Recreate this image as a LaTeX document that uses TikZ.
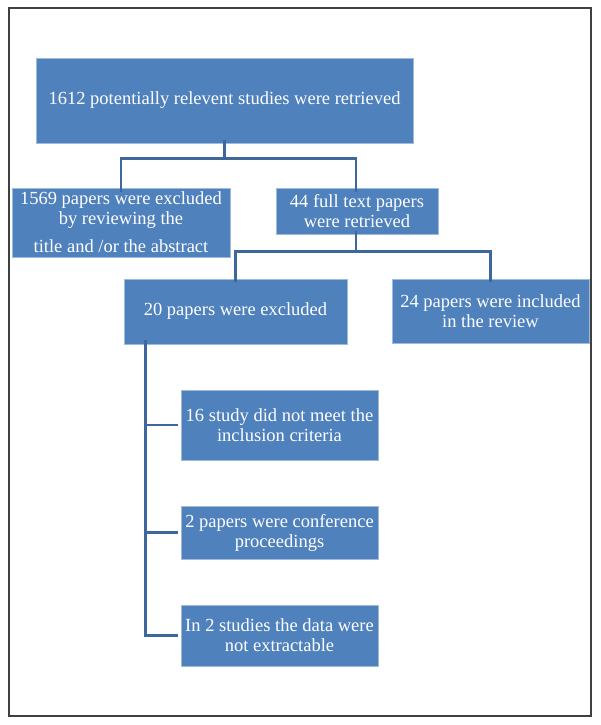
\documentclass[tikz,border=0pt]{standalone}
\usepackage{fontspec}
\setmainfont{Liberation Serif}
\definecolor{boxblue}{RGB}{79,129,189}
\definecolor{boxedge}{RGB}{160,186,222}
\definecolor{connblue}{RGB}{62,104,156}
\definecolor{frame}{RGB}{64,64,64}
\begin{document}
\begin{tikzpicture}[x=1pt,y=-1pt,
  flowbox/.style={fill=boxblue, draw=boxedge, line width=0.8pt, text=white,
    align=center, inner sep=0pt, font=\fontsize{18.5}{20}\selectfont},
  conn/.style={draw=connblue, line width=2.3pt}]
\useasboundingbox (0,0) rectangle (600,725);
\draw[frame, line width=1.3pt] (9,8) rectangle (591,716);
% nodes
\node[flowbox, minimum width=377pt, minimum height=85pt] (top) at (224.5,100.5)
  {1612 potentially relevent studies were retrieved};
\node[flowbox, minimum width=218pt, minimum height=69pt] (excl) at (121,222.5)
  {1569 papers were excluded\\by reviewing the\\[8pt]title and /or the abstract};
\node[flowbox, minimum width=162pt, minimum height=46pt] (full) at (357,211)
  {44 full text papers\\were retrieved};
\node[flowbox, minimum width=223pt, minimum height=65pt] (twenty) at (235.5,311.5)
  {20 papers were excluded};
\node[flowbox, minimum width=197pt, minimum height=64pt] (incl) at (490.5,311)
  {24 papers were included\\in the review};
\node[flowbox, minimum width=197pt, minimum height=70pt] (crit) at (279.5,425)
  {16 study did not meet the\\inclusion criteria};
\node[flowbox, minimum width=197pt, minimum height=53pt] (conf) at (279.5,532.5)
  {2 papers were conference\\proceedings};
\node[flowbox, minimum width=197pt, minimum height=61pt] (data) at (279.5,635.5)
  {In 2 studies the data were\\not extractable};
% connectors
\draw[conn] ([yshift=3pt]top.south) -- ++(0,18) coordinate (j1);
\draw[conn] (j1) -| ([yshift=-4pt]excl.north);
\draw[conn] (j1) -| ([yshift=-4pt,xshift=-1pt]full.north);
\draw[conn] ([yshift=3pt,xshift=-1pt]full.south) -- ++(0,20) coordinate (j2);
\draw[conn] (j2) -| ([yshift=-3pt]twenty.north);
\draw[conn] (j2) -| ([yshift=-3pt]incl.north);
\draw[conn] ([xshift=22pt,yshift=4pt]twenty.south west) coordinate (j3)
  |- ([xshift=-3pt]data.west);
\draw[conn] (j3 |- crit.west) -- ([xshift=-3pt]crit.west);
\draw[conn] (j3 |- conf.west) -- ([xshift=-3pt]conf.west);
\end{tikzpicture}
\end{document}
